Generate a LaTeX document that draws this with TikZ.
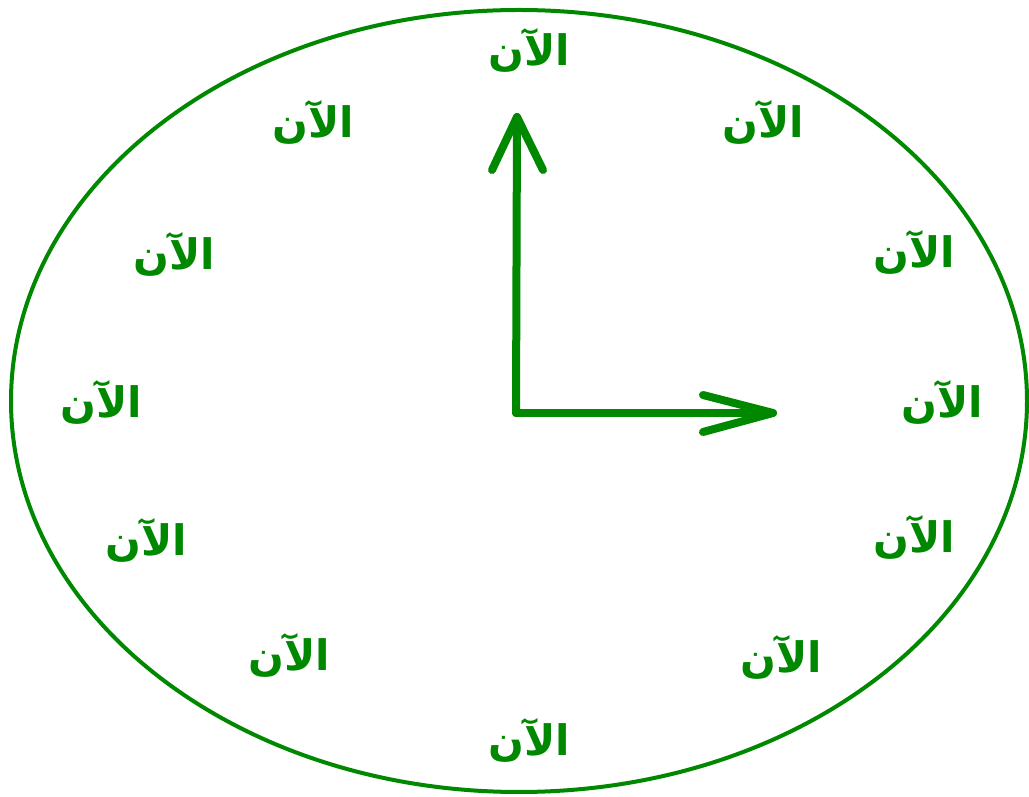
\documentclass[tikz,border=0pt]{standalone}
\usepackage{fontspec}
\newfontfamily\arabicfont[Script=Arabic]{DejaVu Sans}
\TeXXeTstate=1
\definecolor{clockgreen}{RGB}{0,136,0}
\begin{document}
\begin{tikzpicture}[x=1pt,y=1pt,
  hand/.style={draw=clockgreen,line width=8pt,line cap=round,line join=round},
  lbl/.style={text=clockgreen,font=\arabicfont\bfseries\fontsize{42}{46}\selectfont,inner sep=0pt}]
\useasboundingbox (0,0) rectangle (1029,796);
\draw[clockgreen,line width=4pt] (519,395) ellipse [x radius=508, y radius=391];
\coordinate (c) at (516,383);
\coordinate (vt) at (517,679);
\coordinate (vl) at (492,626);
\coordinate (vr) at (543,626);
\coordinate (ht) at (773,383);
\coordinate (hu) at (703,401);
\coordinate (hd) at (703,364);
\draw[hand] (c) -- (vt);
\draw[hand] (vl) -- (vt) -- (vr);
\draw[hand] (c) -- (ht);
\draw[hand] (hu) -- (ht) -- (hd);
\node[lbl] (n12) at (529,746) {\beginR الآن\endR};
\node[lbl] (n1) at (763,674) {\beginR الآن\endR};
\node[lbl] (n2) at (914,544) {\beginR الآن\endR};
\node[lbl] (n3) at (942,394) {\beginR الآن\endR};
\node[lbl] (n4) at (914,259) {\beginR الآن\endR};
\node[lbl] (n5) at (781,139) {\beginR الآن\endR};
\node[lbl] (n6) at (529,56) {\beginR الآن\endR};
\node[lbl] (n7) at (289,141) {\beginR الآن\endR};
\node[lbl] (n8) at (146,256) {\beginR الآن\endR};
\node[lbl] (n9) at (101,394) {\beginR الآن\endR};
\node[lbl] (n10) at (174,542) {\beginR الآن\endR};
\node[lbl] (n11) at (313,674) {\beginR الآن\endR};
\end{tikzpicture}
\end{document}
